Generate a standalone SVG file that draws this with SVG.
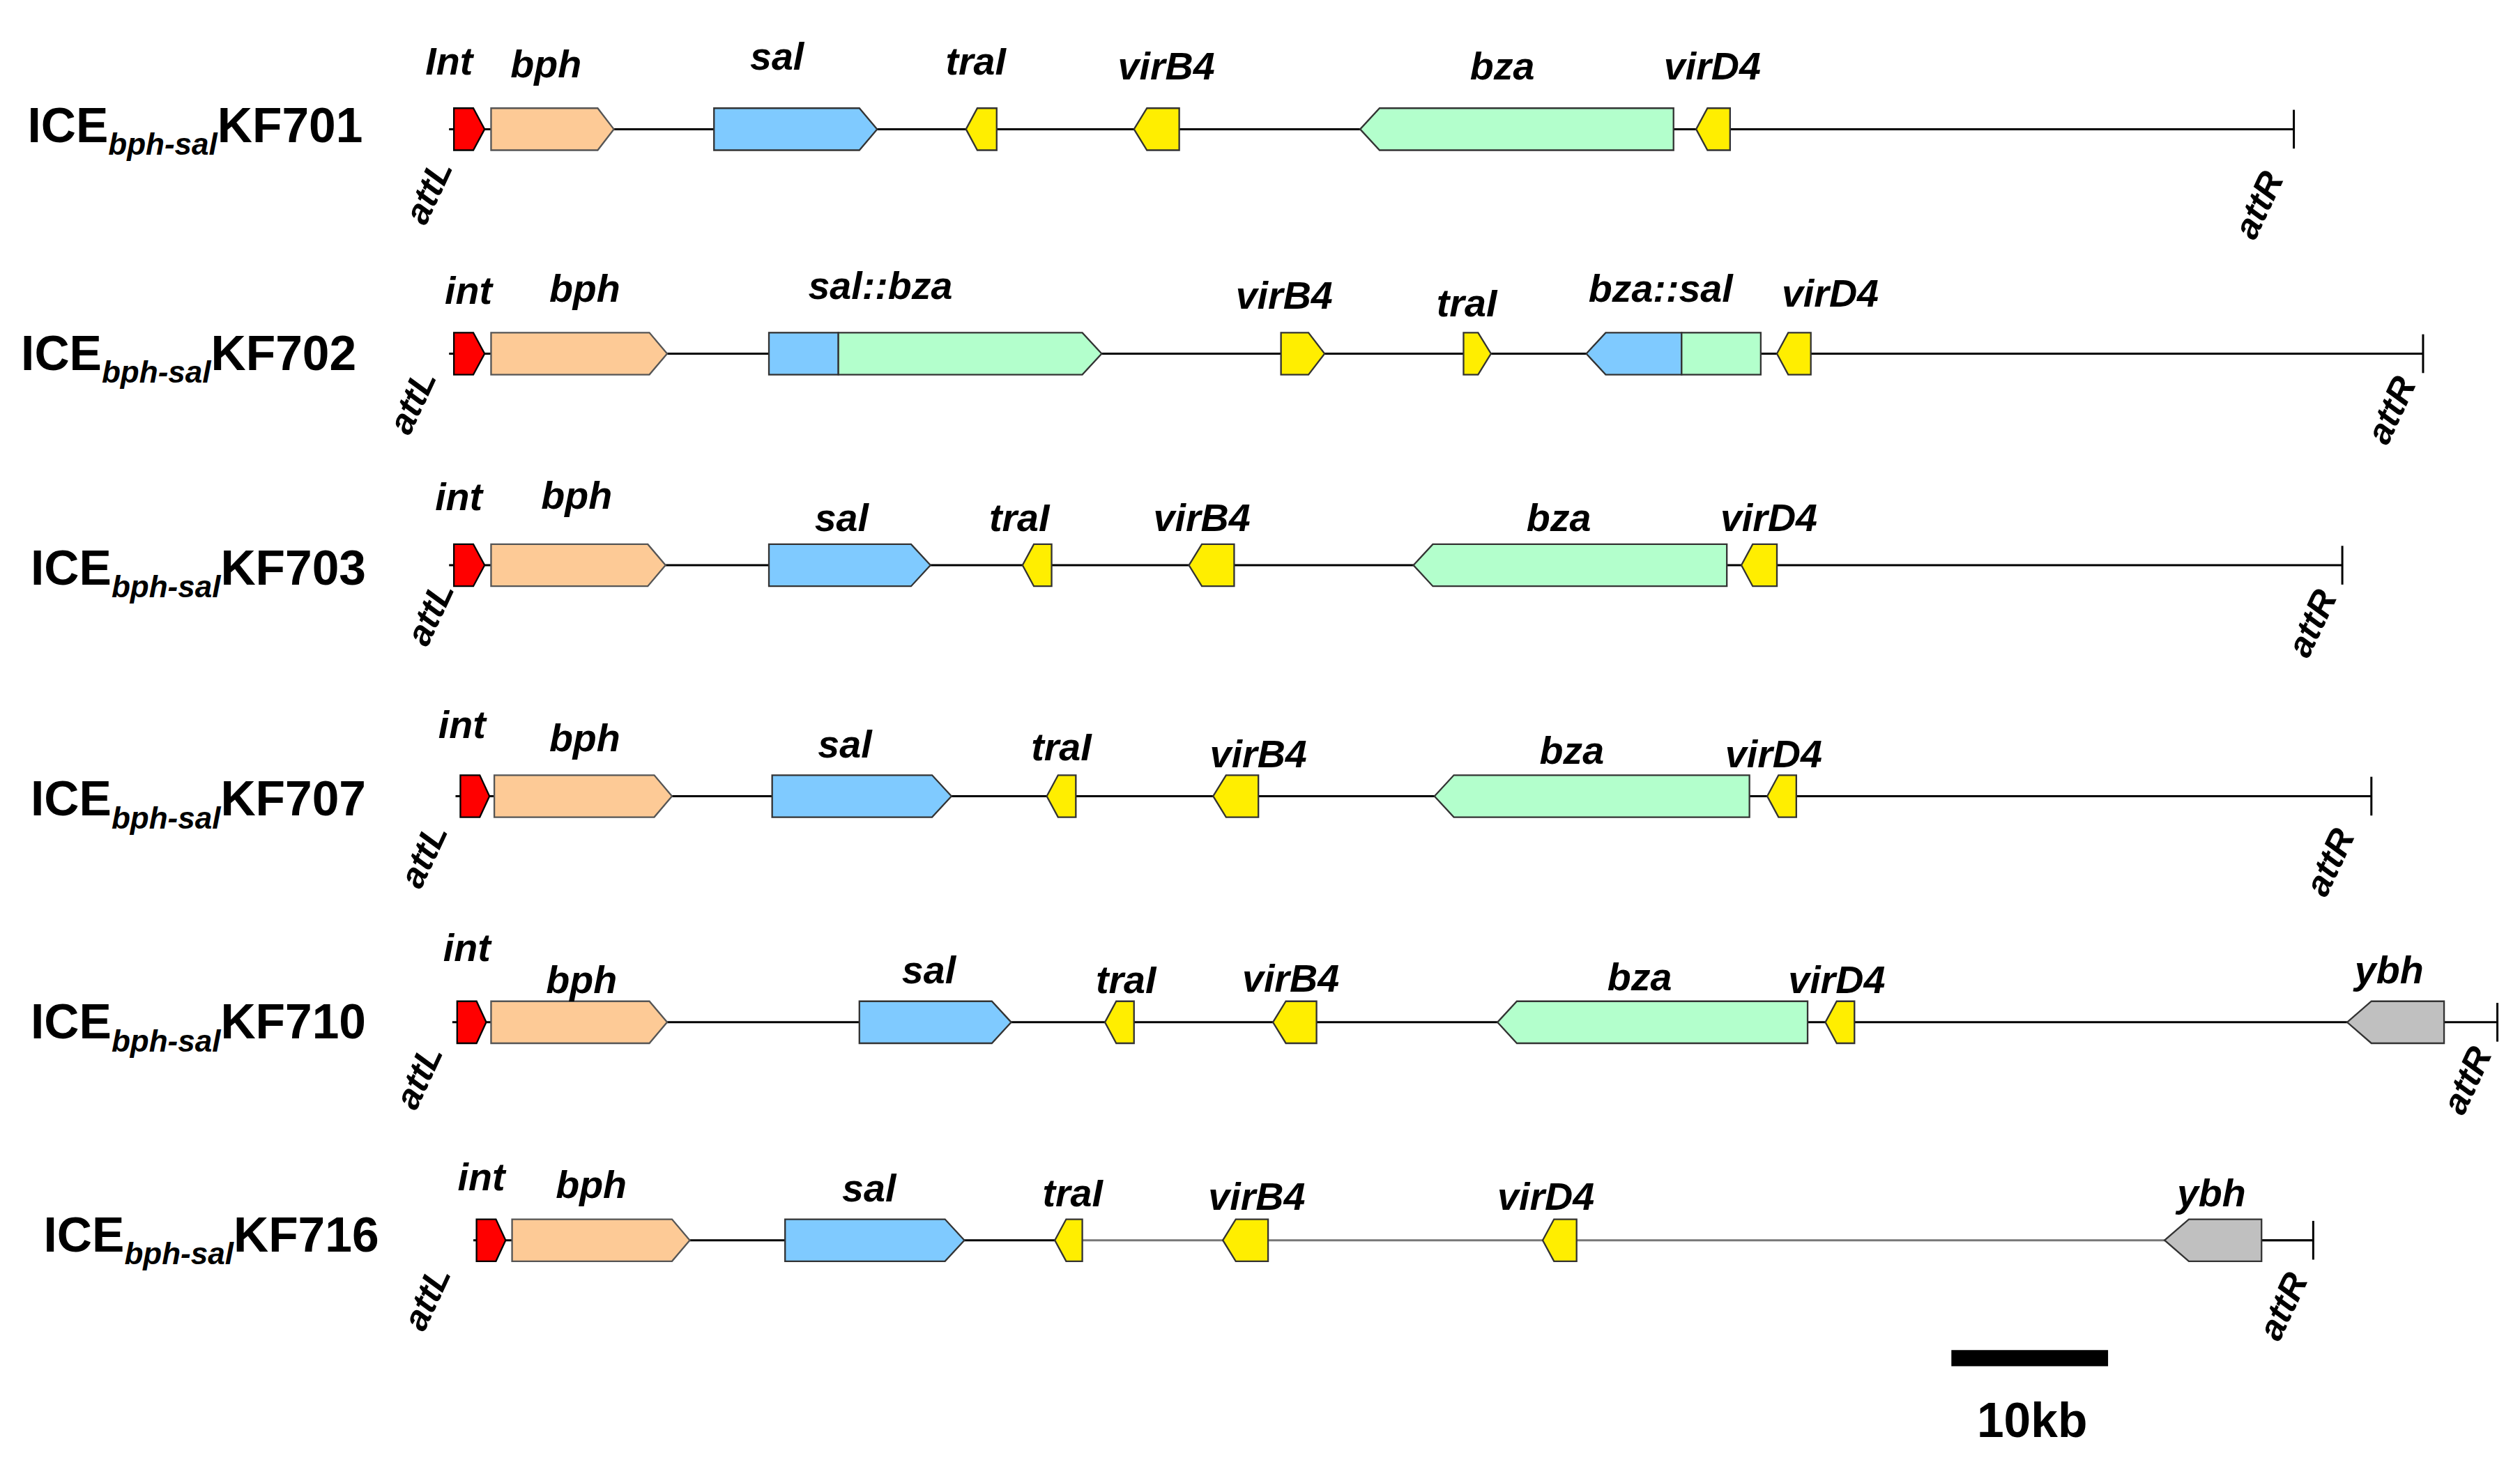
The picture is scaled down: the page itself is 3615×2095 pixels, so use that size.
<svg xmlns="http://www.w3.org/2000/svg" width="3615" height="2095" viewBox="0 0 3615 2095">
<style>
text{font-family:"Liberation Sans",Arial,sans-serif;font-weight:bold;fill:#000}
.g{font-style:italic;font-size:24px;text-anchor:middle}
.t{font-size:30px}
.s{font-size:19px;font-style:italic}
.a{font-style:italic;font-size:22px;text-anchor:middle}
.ln{stroke:#000;stroke-width:1.3;fill:none}
.i{fill:#ff0000;stroke:#000;stroke-width:1}
.b{fill:#fdca96;stroke:#555;stroke-width:1}
.sl{fill:#7fcaff;stroke:#333;stroke-width:1}
.z{fill:#b3ffcc;stroke:#333;stroke-width:1}
.y{fill:#ffee00;stroke:#333;stroke-width:1}
.gr{fill:#c0c0c0;stroke:#333;stroke-width:1}
</style>
<rect width="3615" height="2095" fill="#fff"/>
<g transform="scale(2.3173)">
<g id="connectors">
<line class="ln" x1="278" y1="80" x2="1420" y2="80"/><line class="ln" x1="1420" y1="68" x2="1420" y2="92"/>
<line class="ln" x1="278" y1="219" x2="1500" y2="219"/><line class="ln" x1="1500" y1="207" x2="1500" y2="231"/>
<line class="ln" x1="278" y1="350" x2="1450" y2="350"/><line class="ln" x1="1450" y1="338" x2="1450" y2="362"/>
<line class="ln" x1="282" y1="493" x2="1468" y2="493"/><line class="ln" x1="1468" y1="481" x2="1468" y2="505"/>
<line class="ln" x1="280" y1="633" x2="1546" y2="633"/><line class="ln" x1="1546" y1="621" x2="1546" y2="645"/>
<line class="ln" x1="293" y1="768" x2="653" y2="768"/><line x1="653" y1="768" x2="1432" y2="768" stroke="#777" stroke-width="1.3"/><line class="ln" x1="1400" y1="768" x2="1432" y2="768"/><line class="ln" x1="1432" y1="756" x2="1432" y2="780"/>
</g>
<g id="row1">
<text class="t" x="17" y="88">ICE<tspan class="s" dy="8">bph-sal</tspan><tspan dy="-8">KF701</tspan></text>
<polygon class="i" points="281,67 293,67 300,80 293,93 281,93"/>
<polygon class="b" points="304,67 370,67 380,80 370,93 304,93"/>
<polygon class="sl" points="442,67 532,67 543,80 532,93 442,93"/>
<polygon class="y" points="598,80 605,67 617,67 617,93 605,93"/>
<polygon class="y" points="702,80 710,67 730,67 730,93 710,93"/>
<polygon class="z" points="842,80 854,67 1036,67 1036,93 854,93"/>
<polygon class="y" points="1050,80 1057,67 1071,67 1071,93 1057,93"/>
<text class="g" x="278" y="46">Int</text><text class="g" x="338" y="48">bph</text><text class="g" x="481" y="43">sal</text><text class="g" x="604" y="46">traI</text><text class="g" x="722" y="49">virB4</text><text class="g" x="930" y="49">bza</text><text class="g" x="1060" y="49">virD4</text>
<text class="a" transform="translate(272,122) rotate(-65)">attL</text>
<text class="a" transform="translate(1405,130) rotate(-65)">attR</text>
</g>
<g id="row2">
<text class="t" x="13" y="229">ICE<tspan class="s" dy="8">bph-sal</tspan><tspan dy="-8">KF702</tspan></text>
<polygon class="i" points="281,206 293,206 300,219 293,232 281,232"/>
<polygon class="b" points="304,206 402,206 413,219 402,232 304,232"/>
<rect class="sl" x="476" y="206" width="43" height="26"/>
<polygon class="z" points="519,206 670,206 682,219 670,232 519,232"/>
<polygon class="y" points="793,206 810,206 820,219 810,232 793,232"/>
<polygon class="y" points="906,206 915,206 923,219 915,232 906,232"/>
<polygon class="sl" points="982,219 994,206 1041,206 1041,232 994,232"/>
<rect class="z" x="1041" y="206" width="49" height="26"/>
<polygon class="y" points="1100,219 1107,206 1121,206 1121,232 1107,232"/>
<text class="g" x="290" y="188">int</text><text class="g" x="362" y="187">bph</text><text class="g" x="545" y="185">sal::bza</text><text class="g" x="795" y="191">virB4</text><text class="g" x="908" y="196">traI</text><text class="g" x="1028" y="187">bza::sal</text><text class="g" x="1133" y="190">virD4</text>
<text class="a" transform="translate(262,252) rotate(-65)">attL</text>
<text class="a" transform="translate(1487,257) rotate(-65)">attR</text>
</g>
<g id="row3">
<text class="t" x="19" y="362">ICE<tspan class="s" dy="8">bph-sal</tspan><tspan dy="-8">KF703</tspan></text>
<polygon class="i" points="281,337 293,337 300,350 293,363 281,363"/>
<polygon class="b" points="304,337 401,337 412,350 401,363 304,363"/>
<polygon class="sl" points="476,337 564,337 576,350 564,363 476,363"/>
<polygon class="y" points="633,350 640,337 651,337 651,363 640,363"/>
<polygon class="y" points="736,350 744,337 764,337 764,363 744,363"/>
<polygon class="z" points="875,350 887,337 1069,337 1069,363 887,363"/>
<polygon class="y" points="1078,350 1085,337 1100,337 1100,363 1085,363"/>
<text class="g" x="284" y="316">int</text><text class="g" x="357" y="315">bph</text><text class="g" x="521" y="329">sal</text><text class="g" x="631" y="329">traI</text><text class="g" x="744" y="329">virB4</text><text class="g" x="965" y="329">bza</text><text class="g" x="1095" y="329">virD4</text>
<text class="a" transform="translate(273,383) rotate(-65)">attL</text>
<text class="a" transform="translate(1438,389) rotate(-65)">attR</text>
</g>
<g id="row4">
<text class="t" x="19" y="505">ICE<tspan class="s" dy="8">bph-sal</tspan><tspan dy="-8">KF707</tspan></text>
<polygon class="i" points="285,480 297,480 303,493 297,506 285,506"/>
<polygon class="b" points="306,480 405,480 416,493 405,506 306,506"/>
<polygon class="sl" points="478,480 577,480 589,493 577,506 478,506"/>
<polygon class="y" points="648,493 655,480 666,480 666,506 655,506"/>
<polygon class="y" points="751,493 759,480 779,480 779,506 759,506"/>
<polygon class="z" points="888,493 900,480 1083,480 1083,506 900,506"/>
<polygon class="y" points="1094,493 1101,480 1112,480 1112,506 1101,506"/>
<text class="g" x="286" y="457">int</text><text class="g" x="362" y="465">bph</text><text class="g" x="523" y="469">sal</text><text class="g" x="657" y="471">traI</text><text class="g" x="779" y="475">virB4</text><text class="g" x="973" y="473">bza</text><text class="g" x="1098" y="475">virD4</text>
<text class="a" transform="translate(269,533) rotate(-65)">attL</text>
<text class="a" transform="translate(1449,537) rotate(-65)">attR</text>
</g>
<g id="row5">
<text class="t" x="19" y="643">ICE<tspan class="s" dy="8">bph-sal</tspan><tspan dy="-8">KF710</tspan></text>
<polygon class="i" points="283,620 295,620 301,633 295,646 283,646"/>
<polygon class="b" points="304,620 402,620 413,633 402,646 304,646"/>
<polygon class="sl" points="532,620 614,620 626,633 614,646 532,646"/>
<polygon class="y" points="684,633 691,620 702,620 702,646 691,646"/>
<polygon class="y" points="788,633 796,620 815,620 815,646 796,646"/>
<polygon class="z" points="927,633 939,620 1119,620 1119,646 939,646"/>
<polygon class="y" points="1130,633 1137,620 1148,620 1148,646 1137,646"/>
<polygon class="gr" points="1453,633 1468,620 1513,620 1513,646 1468,646"/>
<text class="g" x="289" y="595">int</text><text class="g" x="360" y="615">bph</text><text class="g" x="575" y="609">sal</text><text class="g" x="697" y="615">traI</text><text class="g" x="799" y="614">virB4</text><text class="g" x="1015" y="613">bza</text><text class="g" x="1137" y="615">virD4</text><text class="g" x="1479" y="609">ybh</text>
<text class="a" transform="translate(266,670) rotate(-65)">attL</text>
<text class="a" transform="translate(1534,672) rotate(-65)">attR</text>
</g>
<g id="row6">
<text class="t" x="27" y="775">ICE<tspan class="s" dy="8">bph-sal</tspan><tspan dy="-8">KF716</tspan></text>
<polygon class="i" points="295,755 307,755 313,768 307,781 295,781"/>
<polygon class="b" points="317,755 416,755 427,768 416,781 317,781"/>
<polygon class="sl" points="486,755 585,755 597,768 585,781 486,781"/>
<polygon class="y" points="653,768 660,755 670,755 670,781 660,781"/>
<polygon class="y" points="757,768 765,755 785,755 785,781 765,781"/>
<polygon class="y" points="955,768 962,755 976,755 976,781 962,781"/>
<polygon class="gr" points="1340,768 1355,755 1400,755 1400,781 1355,781"/>
<text class="g" x="298" y="737">int</text><text class="g" x="366" y="742">bph</text><text class="g" x="538" y="744">sal</text><text class="g" x="664" y="747">traI</text><text class="g" x="778" y="749">virB4</text><text class="g" x="957" y="749">virD4</text><text class="g" x="1369" y="747">ybh</text>
<text class="a" transform="translate(271,807) rotate(-65)">attL</text>
<text class="a" transform="translate(1420,812) rotate(-65)">attR</text>
</g>
<g id="scalebar">
<rect x="1208" y="836" width="97" height="10" fill="#000"/>
<text class="t" x="1258" y="890" text-anchor="middle">10kb</text>
</g>
</g>
</svg>
